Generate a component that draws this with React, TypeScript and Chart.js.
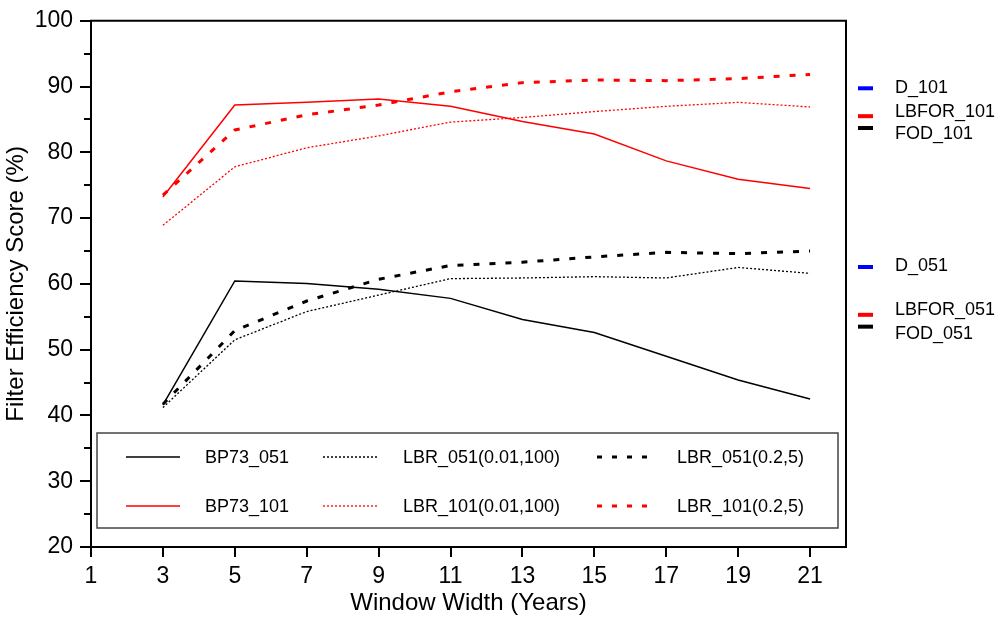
import React, { useEffect, useRef } from "react";
import { Chart, registerables } from "chart.js";

Chart.register(...registerables);

const xValues = [3, 5, 7, 9, 11, 13, 15, 17, 19, 21];
const xTicks = [1, 3, 5, 7, 9, 11, 13, 15, 17, 19, 21];
const yTicks = [20, 30, 40, 50, 60, 70, 80, 90, 100];
const yMinorTicks = [25, 35, 45, 55, 65, 75, 85, 95];

const bp73_051 = [41.6, 60.45, 60.05, 59.2, 57.8, 54.6, 52.6, 49.0, 45.4, 42.5];
const lbr051_001_100 = [41.2, 51.5, 55.8, 58.3, 60.8, 60.9, 61.1, 60.9, 62.5, 61.6];
const lbr051_02_5 = [41.7, 52.9, 57.4, 60.7, 62.8, 63.3, 64.1, 64.8, 64.6, 65.0];
const bp73_101 = [73.2, 87.2, 87.6, 88.1, 87.0, 84.7, 82.8, 78.7, 75.9, 74.5];
const lbr101_001_100 = [68.9, 77.8, 80.7, 82.5, 84.6, 85.3, 86.2, 87.0, 87.6, 86.9];
const lbr101_02_5 = [73.5, 83.4, 85.7, 87.2, 89.2, 90.6, 91.0, 90.9, 91.2, 91.85];

const refLabels = ["D_101", "LBFOR_101", "FOD_101", "D_051", "LBFOR_051", "FOD_051"];
const refValues = [89.74, 85.5, 83.7, 62.57, 55.3, 53.5];
const refColors = ["#0000ff", "#ff0000", "#000000", "#0000ff", "#ff0000", "#000000"];
const refLabelNudge = [0, -4, 6, -1, -5, 7];

const FONT = "'Liberation Sans', Arial, Helvetica, sans-serif";

const styles = {
  solid: { borderWidth: 1.5, borderDash: [] as number[] },
  dotted: { borderWidth: 1.3, borderDash: [2, 2] },
  dashed: { borderWidth: 3, borderDash: [6, 10] },
};

function mk(label: string, arr: number[], color: string, st: { borderWidth: number; borderDash: number[] }) {
  return {
    label,
    data: xValues.map((x, i) => ({ x, y: arr[i] })),
    borderColor: color,
    backgroundColor: color,
    borderWidth: st.borderWidth,
    borderDash: st.borderDash,
    pointRadius: 0,
    tension: 0,
    fill: false,
  };
}

const framePlugin = {
  id: "frameAndExtras",
  afterDraw(chart: any) {
    const ctx = chart.ctx;
    const { left, right, top, bottom } = chart.chartArea;
    const yScale = chart.scales.y;
    ctx.save();
    // top and right frame
    ctx.strokeStyle = "#000";
    ctx.lineWidth = 2;
    ctx.beginPath();
    ctx.moveTo(left - 1, top);
    ctx.lineTo(right, top);
    ctx.lineTo(right, bottom + 1);
    ctx.stroke();
    // minor y ticks
    ctx.lineWidth = 2;
    ctx.beginPath();
    yMinorTicks.forEach((v) => {
      const py = Math.round(yScale.getPixelForValue(v));
      ctx.moveTo(left - 7, py);
      ctx.lineTo(left, py);
    });
    ctx.stroke();

    // legend box
    const bx = left + 6;
    const bw = right - 8 - bx;
    const by = bottom - 114;
    const bh = 95;
    ctx.fillStyle = "#fff";
    ctx.fillRect(bx, by, bw, bh);
    ctx.strokeStyle = "#444";
    ctx.lineWidth = 1.5;
    ctx.strokeRect(bx, by, bw, bh);

    const sampleOff = [29, 226, 500];
    const textOff = [108, 306, 580];
    const rowOff = [24, 73];
    ctx.font = `18px ${FONT}`;
    ctx.textBaseline = "middle";
    ctx.textAlign = "left";
    chart.data.datasets.forEach((ds: any, k: number) => {
      const col = k % 3;
      const row = Math.floor(k / 3);
      const yy = by + rowOff[row];
      const sx = bx + sampleOff[col];
      ctx.save();
      ctx.strokeStyle = ds.borderColor;
      ctx.lineWidth = ds.borderWidth;
      ctx.setLineDash(ds.borderWidth === 3 ? [5, 10] : ds.borderDash);
      ctx.beginPath();
      ctx.moveTo(sx, yy);
      ctx.lineTo(sx + 54, yy);
      ctx.stroke();
      ctx.restore();
      ctx.fillStyle = "#000";
      ctx.fillText(ds.label, bx + textOff[col], yy + 1);
    });

    // right-side reference markers
    ctx.font = `18px ${FONT}`;
    refValues.forEach((v, i) => {
      const py = yScale.getPixelForValue(v);
      ctx.fillStyle = refColors[i];
      ctx.fillRect(right + 12, py - 2, 15, 4);
      ctx.fillStyle = "#000";
      ctx.fillText(refLabels[i], right + 49, py + refLabelNudge[i]);
    });
    ctx.restore();
  },
};

export default function App() {
  const ref = useRef<HTMLCanvasElement>(null);
  useEffect(() => {
    if (!ref.current) return;
    const chart = new Chart(ref.current, {
      type: "line",
      data: {
        datasets: [
          mk("BP73_051", bp73_051, "#000000", styles.solid),
          mk("LBR_051(0.01,100)", lbr051_001_100, "#000000", styles.dotted),
          mk("LBR_051(0.2,5)", lbr051_02_5, "#000000", styles.dashed),
          mk("BP73_101", bp73_101, "#ff0000", styles.solid),
          mk("LBR_101(0.01,100)", lbr101_001_100, "#ff0000", styles.dotted),
          mk("LBR_101(0.2,5)", lbr101_02_5, "#ff0000", styles.dashed),
        ],
      },
      options: {
        animation: false,
        responsive: false,
        devicePixelRatio: 1,
        layout: { padding: { top: 17, right: 154, left: 0, bottom: 0 } },
        plugins: { legend: { display: false }, tooltip: { enabled: false } },
        scales: {
          x: {
            type: "linear",
            min: 1,
            max: 22,
            afterBuildTicks: (s: any) => {
              s.ticks = xTicks.map((v) => ({ value: v }));
            },
            afterFit: (s: any) => {
              s.height = 70;
            },
            grid: { drawOnChartArea: false, tickLength: 10, lineWidth: 2, color: "#000" },
            border: { display: true, color: "#000", width: 2 },
            ticks: { color: "#000", font: { family: FONT, size: 23 }, padding: 6, maxRotation: 0, autoSkip: false },
            title: {
              display: true,
              text: "Window Width (Years)",
              color: "#000",
              font: { family: FONT, size: 24 },
              padding: { top: 0, bottom: -1 },
            },
          },
          y: {
            type: "linear",
            min: 20,
            max: 100,
            afterBuildTicks: (s: any) => {
              s.ticks = yTicks.map((v) => ({ value: v }));
            },
            afterFit: (s: any) => {
              s.width = 91;
            },
            grid: { drawOnChartArea: false, tickLength: 11, lineWidth: 2, color: "#000" },
            border: { display: true, color: "#000", width: 2 },
            ticks: { color: "#000", font: { family: FONT, size: 23 }, padding: 7, autoSkip: false },
            title: {
              display: true,
              text: "Filter Efficiency Score (%)",
              color: "#000",
              font: { family: FONT, size: 24 },
              padding: { top: 2, bottom: 0 },
            },
          },
        },
      },
      plugins: [framePlugin],
    } as any);
    return () => chart.destroy();
  }, []);
  return (
    <div style={{ position: "absolute", left: 0, top: 0, width: 1000, height: 617, background: "#fff" }}>
      <canvas ref={ref} width={1000} height={617} />
    </div>
  );
}
